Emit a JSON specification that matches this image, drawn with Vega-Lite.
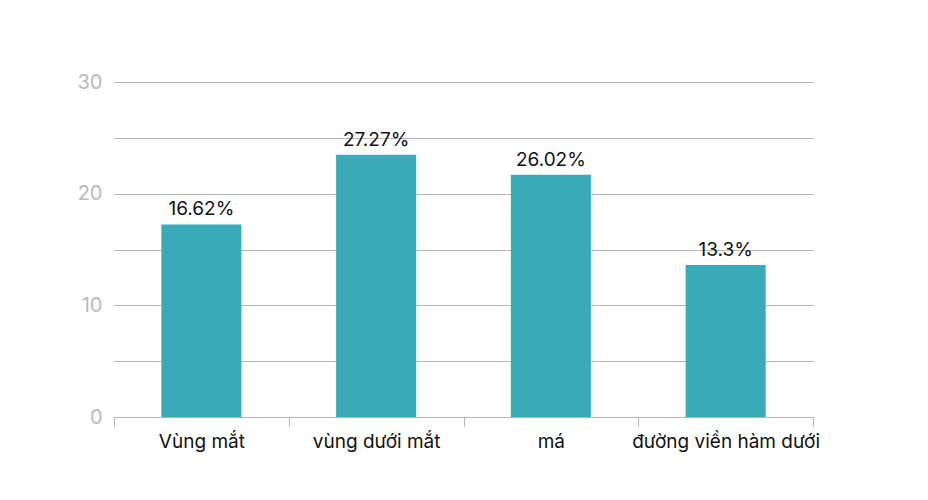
{
  "$schema": "https://vega.github.io/schema/vega-lite/v6.json",
  "width": 699,
  "height": 335,
  "autosize": {"type": "none"},
  "padding": {"left": 114, "top": 82, "right": 115, "bottom": 83},
  "background": "white",
  "config": {
    "view": {"stroke": null},
    "font": "Inter"
  },
  "data": {
    "values": [
      {"vung": "Vùng mắt", "value": 17.24, "label": "16.62%"},
      {"vung": "vùng dưới mắt", "value": 23.48, "label": "27.27%"},
      {"vung": "má", "value": 21.69, "label": "26.02%"},
      {"vung": "đường viền hàm dưới", "value": 13.62, "label": "13.3%"}
    ]
  },
  "encoding": {
    "x": {
      "field": "vung",
      "type": "nominal",
      "sort": null,
      "scale": {"paddingInner": 0, "paddingOuter": 0},
      "axis": {
        "title": null,
        "labelAngle": 0,
        "labelFont": "Inter",
        "labelFontSize": 19,
        "labelColor": "#111111",
        "labelPadding": 6,
        "labelLimit": 0,
        "tickBand": "extent",
        "tickSize": 9,
        "tickColor": "#b5b5b5",
        "domainColor": "#b5b5b5",
        "grid": false,
        "labelOverlap": false
      }
    },
    "y": {
      "field": "value",
      "type": "quantitative",
      "scale": {"domain": [0, 30], "nice": false},
      "axis": {
        "title": null,
        "values": [0, 5, 10, 15, 20, 25, 30],
        "labelExpr": "datum.value % 10 === 0 ? datum.label : ''",
        "labelFont": "Inter",
        "labelFontSize": 20,
        "labelColor": "#b8b8b8",
        "labelPadding": 12,
        "tickSize": 0,
        "domain": false,
        "grid": true,
        "gridColor": "#b5b5b5",
        "gridWidth": 1
      }
    }
  },
  "layer": [
    {
      "mark": {"type": "bar", "color": "#3aa9b8", "width": {"band": 0.458}}
    },
    {
      "mark": {"type": "text", "baseline": "alphabetic", "dy": -9, "fontSize": 19, "font": "Inter", "color": "#111111"},
      "encoding": {"text": {"field": "label"}}
    }
  ]
}
